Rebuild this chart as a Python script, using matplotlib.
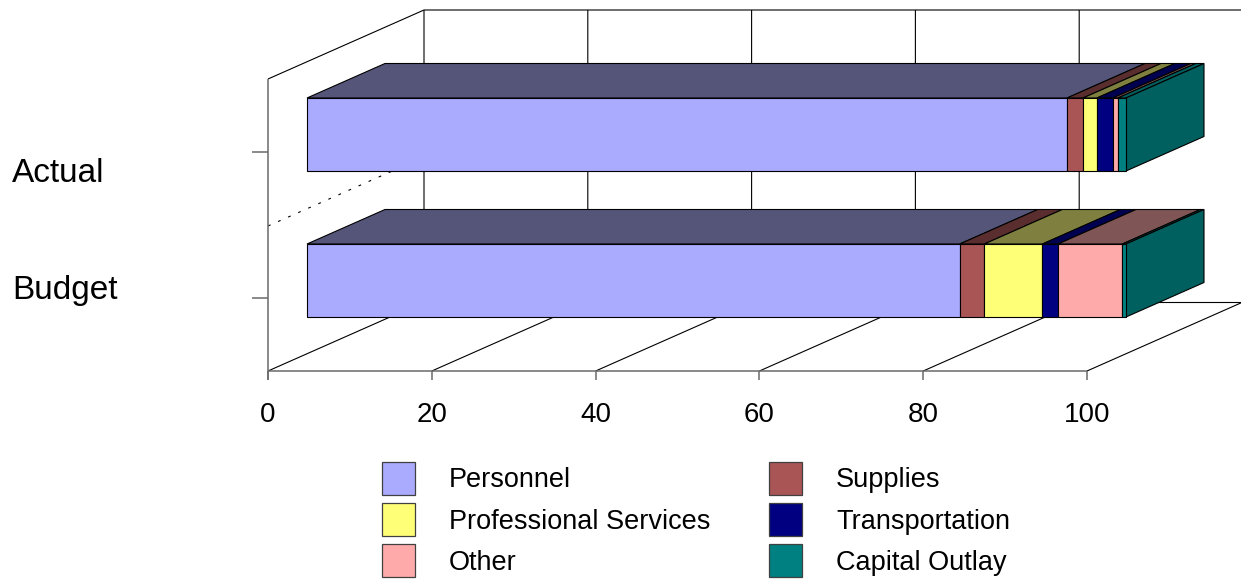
import matplotlib
matplotlib.use("Agg")
import matplotlib.pyplot as plt
from matplotlib.patches import Patch, Polygon

plt.rcParams['font.family'] = ['Liberation Sans', 'DejaVu Sans']

categories = ["Actual", "Budget"]
series = ["Personnel", "Supplies", "Professional Services", "Transportation", "Other", "Capital Outlay"]
actual = [92.8, 1.95, 1.7, 1.95, 0.6, 1.0]
budget = [79.7, 3.0, 7.1, 1.9, 7.85, 0.45]
x_ticks = [0, 20, 40, 60, 80, 100]

front_colors = ["#AAAAFF", "#AA5555", "#FFFF77", "#000080", "#FFAAAA", "#008080"]
top_colors = ["#55557A", "#5A2E2E", "#7F7F3F", "#000050", "#805555", "#005F5F"]
side_color = "#005F5F"

# projection, x in chart units and y in pixels
PX = 8.19
DX = 156 / PX
DY = -69
FLOOR = 371
WALL_TOP = 79
BAR_TOPS = [98, 244]
BAR_H = 73


def pt(v, y, d):
    return (v + d * DX, y + d * DY)


fig = plt.figure(figsize=(12.41, 5.79), dpi=100)
ax = fig.add_axes([0, 0, 1, 1])
ax.set_xlim(-268 / PX, (1241 - 268) / PX)
ax.set_ylim(579, 0)
ax.axis("off")

line = dict(color="black", lw=0.8, zorder=1, solid_capstyle="butt")
grey = dict(color="#6A6A6A", lw=1.1, zorder=1.5, solid_capstyle="butt")

# walls and floor
ax.plot(*zip(pt(0, WALL_TOP, 0), pt(0, FLOOR + 9, 0)), **grey)
ax.plot(*zip(pt(0, WALL_TOP, 0), pt(0, WALL_TOP, 1), pt(120, WALL_TOP, 1)), **line)
ax.plot(*zip(pt(0, FLOOR, 0), pt(100, FLOOR, 0)), **grey)
ax.plot(*zip(pt(0, FLOOR, 1), pt(120, FLOOR, 1)), **line)
for t in x_ticks:
    ax.plot(*zip(pt(t, FLOOR, 0), pt(t, FLOOR, 1), pt(t, WALL_TOP, 1)), **line)
    ax.plot(*zip(pt(t, FLOOR + 9, 0), pt(t, FLOOR, 0)), **grey)
    ax.text(t, 415, str(t), ha="center", va="center", fontsize=20)

# dotted divider on the side wall
ax.plot(*zip(pt(0, 226, 0), pt(0, 226, 1)), color="black", lw=0.8, zorder=1,
        linestyle=(0, (2.5, 7.4)))

# category ticks and labels
label_y = [174, 290]
for name, top, ly in zip(categories, BAR_TOPS, label_y):
    tick_y = top + BAR_H / 2 + 0.25 * DY * -1
    ax.plot([-16 / PX, 0], [tick_y, tick_y], **grey)
    ax.text(-256 / PX, ly, name, ha="left", va="center", fontsize=24)

# stacked bars
for values, top in zip([actual, budget], BAR_TOPS):
    y0 = top + 0.25 * -DY
    left = 0
    for val, fc, tc in zip(values, front_colors, top_colors):
        right = left + val
        ax.add_patch(Polygon([pt(left, y0, 0.25), pt(right, y0, 0.25), pt(right, y0, 0.75), pt(left, y0, 0.75)],
                             fc=tc, ec="black", lw=0.8, zorder=3))
        ax.add_patch(Polygon([pt(left, y0, 0.25), pt(right, y0, 0.25),
                              pt(right, y0 + BAR_H, 0.25), pt(left, y0 + BAR_H, 0.25)],
                             fc=fc, ec="black", lw=0.8, zorder=4))
        left = right
    ax.add_patch(Polygon([pt(left, y0, 0.25), pt(left, y0, 0.75),
                          pt(left, y0 + BAR_H, 0.75), pt(left, y0 + BAR_H, 0.25)],
                         fc=side_color, ec="black", lw=0.8, zorder=3))

# legend fills by column
order = [0, 2, 4, 1, 3, 5]
handles = [Patch(fc=front_colors[i], ec="#404040", lw=0.9, label=series[i]) for i in order]
ax.legend(handles=handles, ncols=2, frameon=False, fontsize=19.5, loc="upper left",
          bbox_to_anchor=(382 / 1241, 1 - 462 / 579), borderpad=0, borderaxespad=0,
          handlelength=1.22, handleheight=1.5, handletextpad=1.26,
          labelspacing=0.3, columnspacing=2.15)

fig.savefig("out.png", dpi=100)
